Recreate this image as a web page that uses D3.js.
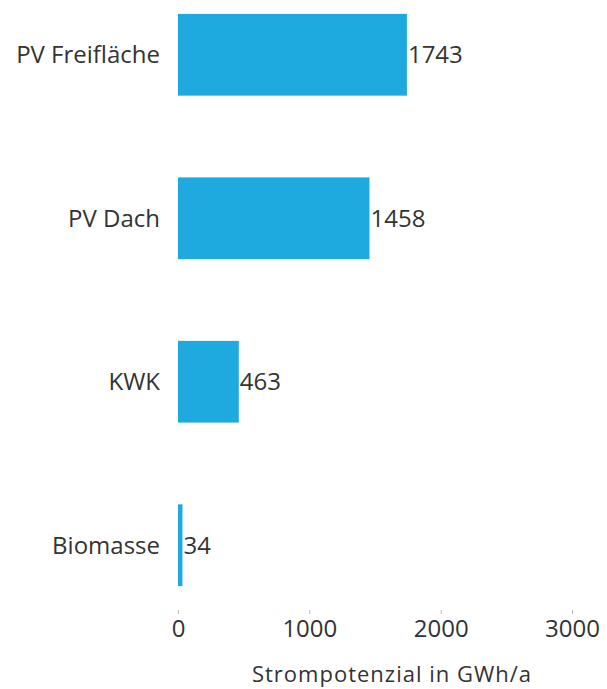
<!DOCTYPE html>
<html>
<head>
<meta charset="utf-8">
<script src="https://cdn.jsdelivr.net/npm/d3@7"></script>
<style>
  body { margin: 0; background: #fff; }
  text { font-family: "Open Sans", sans-serif; fill: #333; }
</style>
</head>
<body>
<svg id="chart" width="607" height="689"></svg>
<script>
// data
var categories = ["PV Freifläche", "PV Dach", "KWK", "Biomasse"];
var values = [1743, 1458, 463, 34];
var xTicks = [0, 1000, 2000, 3000];
var xTitle = "Strompotenzial in GWh/a";

var margin = { top: 0, left: 178, right: 35 },
	width = 607 - margin.left - margin.right,
	height = 600;

var svg = d3.select("#chart")
	.append("g")
	.attr("transform", "translate(" + margin.left + "," + margin.top + ")");

var x = d3.scaleLinear().domain([0, 3000]).range([0, width]);
var y = d3.scaleBand().domain(categories).range([0, height])
	.paddingInner(0.5).paddingOuter(0.085);

var data = categories.map(function (c, i) { return { cat: c, val: values[i] }; });

// bars
svg.selectAll("rect.bar")
	.data(data).enter()
	.append("rect")
	.attr("class", "bar")
	.attr("x", x(0))
	.attr("y", function (d) { return y(d.cat); })
	.attr("width", function (d) { return x(d.val) - x(0); })
	.attr("height", y.bandwidth())
	.attr("fill", "#1ea9df");

// value labels
svg.selectAll("text.val")
	.data(data).enter()
	.append("text")
	.attr("class", "val")
	.attr("x", function (d) { return x(d.val) + 1; })
	.attr("y", function (d) { return y(d.cat) + y.bandwidth() / 2; })
	.attr("dy", "0.35em")
	.style("font-size", "24px")
	.text(function (d) { return d.val; });

// category labels
svg.selectAll("text.cat")
	.data(data).enter()
	.append("text")
	.attr("class", "cat")
	.attr("x", -18)
	.attr("y", function (d) { return y(d.cat) + y.bandwidth() / 2; })
	.attr("dy", "0.35em")
	.attr("text-anchor", "end")
	.style("font-size", "24px")
	.text(function (d) { return d.cat; });

// x axis
var xAxis = svg.append("g")
	.attr("transform", "translate(0," + (height + 10) + ")")
	.call(d3.axisBottom(x).tickValues(xTicks).tickFormat(d3.format("d"))
		.tickSize(4).tickPadding(6));
xAxis.select(".domain").remove();
xAxis.selectAll(".tick line").attr("stroke", "#bbb");
xAxis.selectAll(".tick text")
	.style("font-size", "24px")
	.style("font-family", "'Open Sans', sans-serif")
	.attr("fill", "#333");

svg.append("text")
	.attr("x", 214)
	.attr("y", 682)
	.attr("text-anchor", "middle")
	.style("font-size", "22px")
	.style("letter-spacing", "1px")
	.text(xTitle);
</script>
</body>
</html>
